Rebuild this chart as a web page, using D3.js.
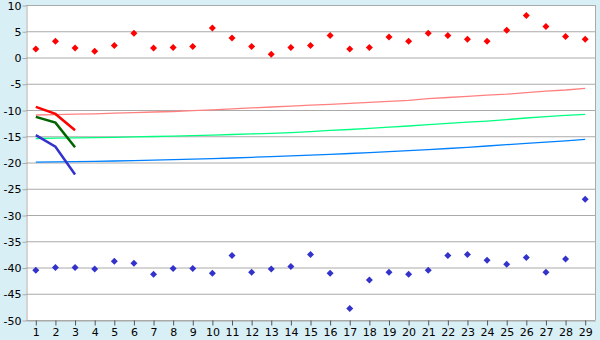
<!DOCTYPE html>
<html>
<head>
<meta charset="utf-8">
<script src="https://cdn.jsdelivr.net/npm/d3@7"></script>
<style>
body{margin:0;background:#d9eff6}
svg{display:block}
text{font-family:"DejaVu Sans",sans-serif;font-size:11px;fill:#000}
</style>
</head>
<body>
<div id="chart"></div>
<script>

// categories 1..29
const categories = ["1","2","3","4","5","6","7","8","9","10","11","12","13","14","15","16","17","18","19","20","21","22","23","24","25","26","27","28","29"]

const yTicks = [10,5,0,-5,-10,-15,-20,-25,-30,-35,-40,-45,-50]

// scatter points
const redPoints = [1.6,3.1,1.8,1.2,2.3,4.6,1.8,1.9,2.1,5.6,3.7,2.1,0.6,1.9,2.3,4.2,1.6,1.9,3.9,3.1,4.6,4.2,3.5,3.1,5.2,8.0,5.9,4.0,3.5]
const bluePoints = [-40.5,-40.0,-40.0,-40.3,-38.8,-39.2,-41.3,-40.2,-40.2,-41.1,-37.7,-40.9,-40.3,-39.8,-37.5,-41.1,-47.8,-42.4,-40.9,-41.3,-40.5,-37.7,-37.5,-38.6,-39.4,-38.1,-40.9,-38.4,-27.0]

// long thin lines
const redLine = [-10.95,-10.88,-10.80,-10.72,-10.61,-10.51,-10.38,-10.29,-10.11,-9.96,-9.77,-9.60,-9.43,-9.26,-9.09,-8.91,-8.72,-8.55,-8.34,-8.17,-7.85,-7.62,-7.39,-7.18,-6.99,-6.69,-6.40,-6.19,-5.87]
const greenLine = [-15.43,-15.37,-15.31,-15.26,-15.20,-15.12,-15.05,-14.97,-14.88,-14.78,-14.67,-14.55,-14.44,-14.30,-14.11,-13.90,-13.71,-13.50,-13.28,-13.05,-12.78,-12.55,-12.32,-12.10,-11.83,-11.52,-11.26,-11.03,-10.82]
const blueLine = [-19.94,-19.89,-19.83,-19.77,-19.71,-19.64,-19.56,-19.47,-19.37,-19.26,-19.14,-19.01,-18.88,-18.74,-18.59,-18.44,-18.29,-18.11,-17.94,-17.73,-17.54,-17.33,-17.10,-16.86,-16.61,-16.36,-16.13,-15.87,-15.60]

// short thick lines (first 3 categories)
const redShort = [-9.4,-10.75,-13.85]
const greenShort = [-11.3,-12.4,-17.1]
const blueShort = [-14.8,-17.0,-22.3]

const width = 600
const height = 340
const plotLeft = 26, plotRight = 595, plotTop = 5, plotBottom = 320

const svg = d3.select("#chart")
.append("svg")
.attr("width",width)
.attr("height",height)

const x = d3.scaleBand().domain(categories).range([plotLeft,plotRight])
const cx = c => x(c) + x.bandwidth()/2

const y = d3.scaleLinear().domain([-50,10]).range([plotBottom,plotTop])

// plot area
svg.append("rect")
.attr("x",plotLeft).attr("y",plotTop)
.attr("width",plotRight-plotLeft).attr("height",plotBottom-plotTop)
.attr("fill","white")

// grid
svg.append("g")
.selectAll("line")
.data(yTicks)
.enter()
.append("line")
.attr("x1",plotLeft).attr("x2",plotRight)
.attr("y1",d=>y(d)+0.5).attr("y2",d=>y(d)+0.5)
.attr("stroke","#aaaaaa")

// right border
svg.append("line")
.attr("x1",plotRight+0.5).attr("x2",plotRight+0.5)
.attr("y1",plotTop).attr("y2",plotBottom)
.attr("stroke","#aaaaaa")

// axes
const yAxis = svg.append("g")
.attr("transform",`translate(${plotLeft+0.5},0.5)`)
.call(d3.axisLeft(y).tickValues(yTicks).tickSize(4).tickSizeOuter(0).tickFormat(d=>String(d)))
yAxis.select(".domain").attr("stroke","#aaaaaa")
yAxis.selectAll(".tick line").attr("stroke","#aaaaaa")
yAxis.selectAll("text").attr("x",-5).style("font-size","11px").style("font-family","DejaVu Sans")

const xAxis = svg.append("g")
.attr("transform",`translate(0.5,${plotBottom+0.5})`)
.call(d3.axisBottom(x).tickSize(5).tickSizeOuter(0))
xAxis.select(".domain").attr("stroke","#aaaaaa")
xAxis.selectAll(".tick line").attr("stroke","#555555")
xAxis.selectAll("text").attr("y",8).style("font-size","11px").style("font-family","DejaVu Sans")

const line = d3.line()
.x((d,i)=>cx(categories[i]))
.y(d=>y(d))

const longLines = [[redLine,"#ff8080"],[greenLine,"#00ff80"],[blueLine,"#0080ff"]]
longLines.forEach(l=>{
svg.append("path")
.datum(l[0])
.attr("d",line)
.attr("fill","none")
.attr("stroke",l[1])
.attr("stroke-width",1.3)
})

const shortLines = [[redShort,"#ff0000"],[greenShort,"#006400"],[blueShort,"#3333cc"]]
shortLines.forEach(l=>{
svg.append("path")
.datum(l[0])
.attr("d",line)
.attr("fill","none")
.attr("stroke",l[1])
.attr("stroke-width",2.5)
})

const diamond = "M0,-3.5L3.5,0L0,3.5L-3.5,0Z"

svg.append("g")
.selectAll("path")
.data(redPoints)
.enter()
.append("path")
.attr("d",diamond)
.attr("transform",(d,i)=>`translate(${cx(categories[i])},${y(d)})`)
.attr("fill","#ff0000")

svg.append("g")
.selectAll("path")
.data(bluePoints)
.enter()
.append("path")
.attr("d",diamond)
.attr("transform",(d,i)=>`translate(${cx(categories[i])},${y(d)})`)
.attr("fill","#3333cc")

</script>
</body>
</html>
